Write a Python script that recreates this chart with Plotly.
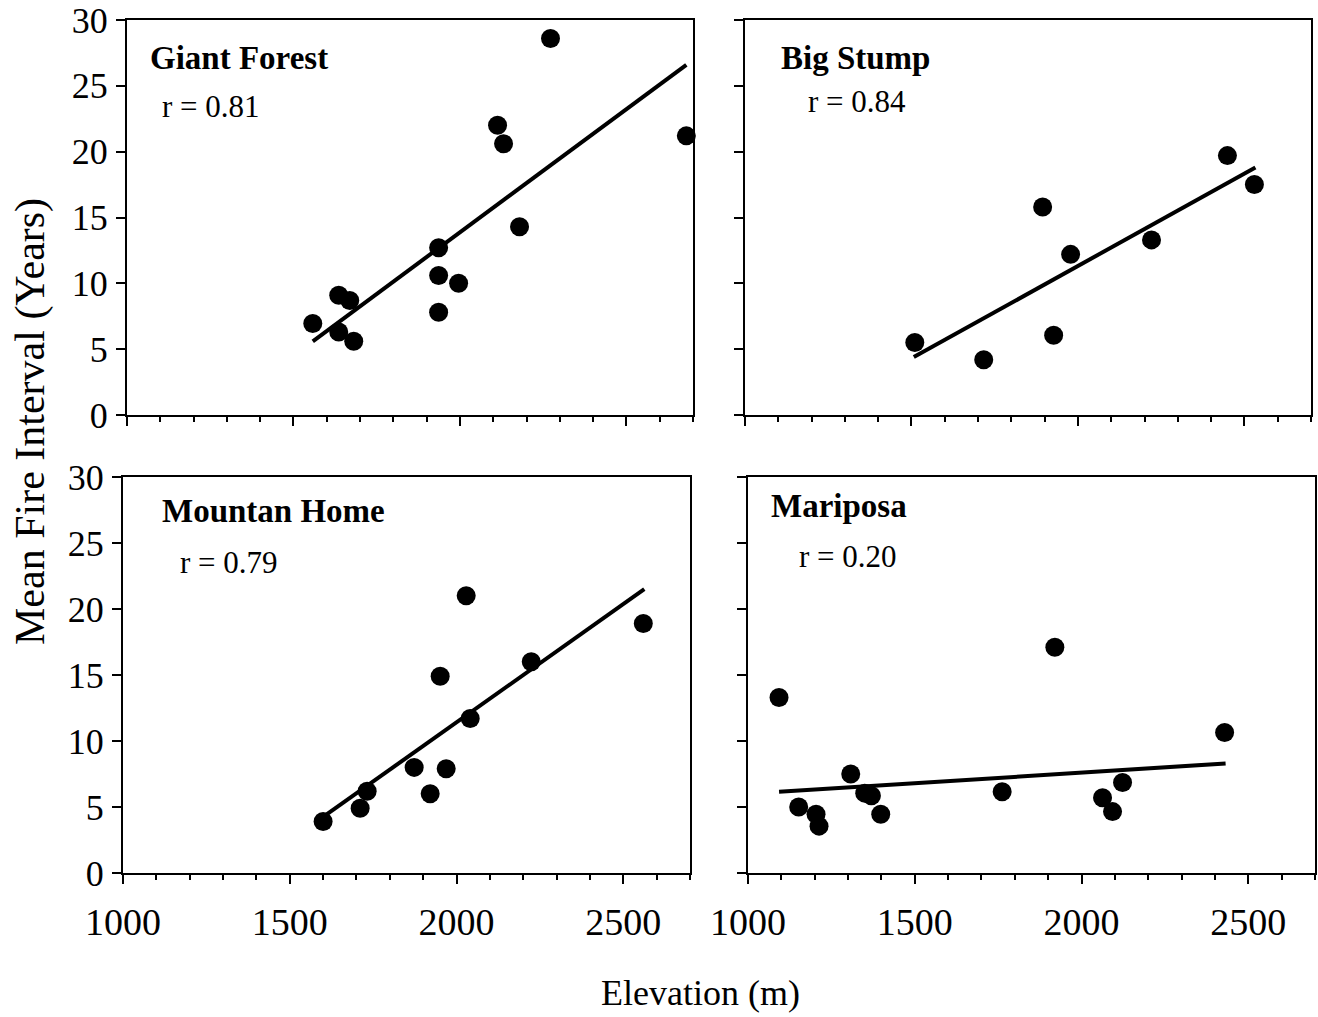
import plotly.graph_objects as go

# ---------------- data ----------------
panel_names = ["Giant Forest", "Big Stump", "Mountan Home", "Mariposa"]
r_labels = ["r = 0.81", "r = 0.84", "r = 0.79", "r = 0.20"]

giant_x = [2272, 2113, 2131, 2680, 2179, 1936, 1936, 1996, 1936, 1636, 1669, 1558, 1636, 1681]
giant_y = [28.6, 22.0, 20.6, 21.2, 14.3, 12.7, 10.6, 10.0, 7.8, 9.1, 8.7, 6.95, 6.3, 5.6]
giant_fit_x = [1558, 2680]
giant_fit_y = [5.6, 26.6]

stump_x = [2449, 2530, 1894, 2221, 1978, 1927, 1510, 1717]
stump_y = [19.7, 17.5, 15.8, 13.3, 12.2, 6.05, 5.5, 4.2]
stump_fit_x = [1507, 2533]
stump_fit_y = [4.4, 18.8]

home_x = [2029, 2560, 2224, 1951, 2041, 1873, 1969, 1732, 1921, 1711, 1600]
home_y = [21.0, 18.9, 16.0, 14.9, 11.7, 8.0, 7.9, 6.2, 6.0, 4.9, 3.9]
home_fit_x = [1600, 2563]
home_fit_y = [4.25, 21.5]

mari_x = [1093, 1920, 2429, 1308, 1762, 1350, 1370, 2123, 2063, 1152, 1204, 1213, 1398, 2093]
mari_y = [13.3, 17.1, 10.65, 7.5, 6.15, 6.05, 5.85, 6.85, 5.7, 5.0, 4.45, 3.55, 4.45, 4.65]
mari_fit_x = [1093, 2432]
mari_fit_y = [6.15, 8.3]

x_ticks = [1000, 1500, 2000, 2500]
y_ticks = [0, 5, 10, 15, 20, 25, 30]
x_title = "Elevation (m)"
y_title = "Mean Fire Interval (Years)"

# ---------------- figure ----------------
W, H = 1318, 1017
FONT = "Liberation Serif, Times New Roman, serif"

def px_x(p):
    return p / W

def px_y(p):
    return 1 - p / H

panels = [
    (giant_x, giant_y, giant_fit_x, giant_fit_y),
    (stump_x, stump_y, stump_fit_x, stump_fit_y),
    (home_x, home_y, home_fit_x, home_fit_y),
    (mari_x, mari_y, mari_fit_x, mari_fit_y),
]

# pixel boxes: (left, right, top, bottom)
boxes = [
    (127, 693, 20, 415),
    (745, 1311, 20, 415),
    (123, 690, 477, 873),
    (748, 1315, 477, 873),
]

fig = go.Figure()
layout = dict(
    width=W, height=H,
    margin=dict(l=0, r=0, t=0, b=0, pad=0),
    paper_bgcolor="white", plot_bgcolor="white",
    showlegend=False,
    font=dict(family=FONT, color="black"),
)

for i, (xs, ys, fx, fy) in enumerate(panels):
    n = i + 1
    xa = "x" if n == 1 else f"x{n}"
    ya = "y" if n == 1 else f"y{n}"
    fig.add_trace(go.Scatter(x=fx, y=fy, mode="lines",
                             line=dict(color="black", width=4),
                             xaxis=xa, yaxis=ya, hoverinfo="skip"))
    fig.add_trace(go.Scatter(x=xs, y=ys, mode="markers",
                             marker=dict(color="black", size=19, line=dict(width=0)),
                             xaxis=xa, yaxis=ya, cliponaxis=False))
    l, r, t, b = boxes[i]
    bottom_row = i >= 2
    layout["xaxis" if n == 1 else f"xaxis{n}"] = dict(
        domain=[px_x(l), px_x(r)], anchor=ya, range=[1000, 2700],
        tickvals=x_ticks, showticklabels=bottom_row,
        ticks="outside", ticklen=9, tickwidth=2, tickcolor="black",
        minor=dict(dtick=100, tick0=1000, ticks="outside", ticklen=5,
                   tickwidth=2, tickcolor="black", showgrid=False),
        showline=True, linewidth=2, linecolor="black", mirror=True,
        showgrid=False, zeroline=False, automargin=False,
        tickfont=dict(family=FONT, size=38, color="black"),
        ticklabelstandoff=5, ticklabeloverflow="allow",
    )
    layout["yaxis" if n == 1 else f"yaxis{n}"] = dict(
        domain=[px_y(b), px_y(t)], anchor=xa, range=[0, 30],
        tickvals=y_ticks, showticklabels=(i % 2 == 0),
        ticks="outside", ticklen=9, tickwidth=2, tickcolor="black",
        showline=True, linewidth=2, linecolor="black", mirror=True,
        showgrid=False, zeroline=False, automargin=False,
        tickfont=dict(family=FONT, size=36, color="black"),
        ticklabelstandoff=1, ticklabeloverflow="allow",
    )

fig.update_layout(**layout)

# panel labels
name_pos = [(148, 58), (779, 58), (160, 511), (769, 506)]
r_pos = [(160, 107), (806, 101), (178, 562), (797, 556)]
annots = []
for i in range(4):
    annots.append(dict(text=f"<b>{panel_names[i]}</b>", xref="paper", yref="paper",
                       x=px_x(name_pos[i][0]), y=px_y(name_pos[i][1]),
                       xanchor="left", yanchor="middle", showarrow=False,
                       font=dict(family=FONT, size=33, color="black")))
    annots.append(dict(text=r_labels[i], xref="paper", yref="paper",
                       x=px_x(r_pos[i][0]), y=px_y(r_pos[i][1]),
                       xanchor="left", yanchor="middle", showarrow=False,
                       font=dict(family=FONT, size=31, color="black")))
annots.append(dict(text=x_title, xref="paper", yref="paper",
                   x=px_x(700), y=px_y(993), xanchor="center", yanchor="middle",
                   showarrow=False, font=dict(family=FONT, size=36, color="black")))
annots.append(dict(text=y_title, xref="paper", yref="paper",
                   x=px_x(30), y=px_y(422), xanchor="center", yanchor="middle",
                   textangle=-90, showarrow=False,
                   font=dict(family=FONT, size=42, color="black")))
fig.update_layout(annotations=annots)

fig.write_html("out.html")
